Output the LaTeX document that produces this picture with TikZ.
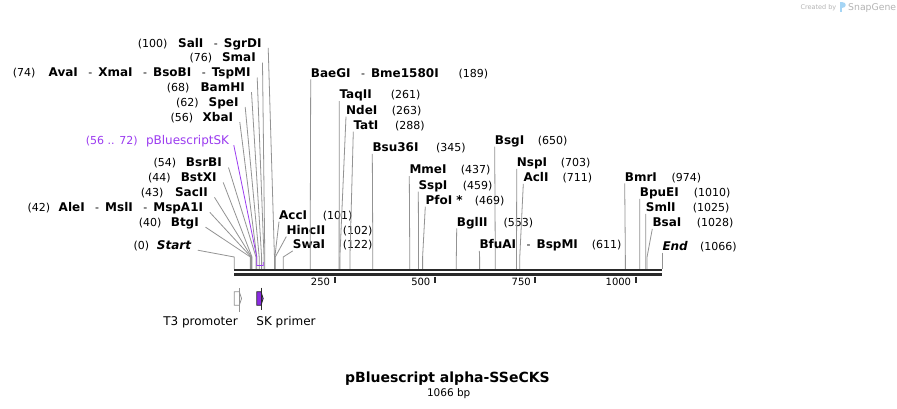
\documentclass[tikz,border=0pt]{standalone}
\usepackage{fontspec}
\setmainfont{DejaVu Sans}
\usetikzlibrary{calc}
\definecolor{leadc}{HTML}{939393}
\definecolor{bbc}{HTML}{2A2A2A}
\definecolor{purc}{HTML}{9B3BF0}
\definecolor{purf}{HTML}{8A2BE2}
\definecolor{logoc}{HTML}{A5D5F5}
\definecolor{credc}{HTML}{B4B4B4}
\newcommand\dsep{\hspace{10.5pt}{\mdseries\fontsize{11}{13}\selectfont-}\hspace{6pt}}
\newcommand\LS[7]{%
  \node[numlbl, anchor=base west] (#1n) at (#3,#2) {#4};
  \node[namelbl, anchor=base east] (#1) at (#5,#2) {#6};
  \coordinate (#1s) at (#7,269);
  \draw[leader] ($(#1.base east)+(6.5,0.8)$) -- ($(#1s)+(0,-12)$) -- (#1s);
}
\newcommand\RS[7]{%
  \node[namelbl, anchor=base west] (#1) at (#3,#2) {#4};
  \node[numlbl, anchor=base west] (#1n) at (#5,#2) {#6};
  \coordinate (#1s) at (#7,269);
  \draw[leader] ($(#1.base west)+(0,2.2)$) -- ($(#1s)+(0,-12)$) -- (#1s);
}
\newcommand\TK[3]{%
  \coordinate (#1) at (#2,276.8);
  \draw[tickline] (#1) -- ++(0,5.8);
  \node[ticklbl, anchor=base east] (#1l) at ($(#1)+(-4.5,8.5)$) {#3};
}
\begin{document}
\begin{tikzpicture}[x=1pt,y=-1pt,
  namelbl/.style={font=\fontsize{12}{14}\selectfont\bfseries, inner sep=0pt, text=black},
  numlbl/.style={font=\fontsize{11}{13}\selectfont, inner sep=0pt, text=black},
  ticklbl/.style={font=\fontsize{10}{12}\selectfont, inner sep=0pt},
  featlbl/.style={font=\fontsize{12}{14}\selectfont, inner sep=0pt},
  leader/.style={draw=leadc, line width=0.8pt},
  tickline/.style={draw=bbc, line width=2pt},
  backbone/.style={draw=bbc, line width=2.4pt}]
\fill[white] (0,0) rectangle (897,408);
\useasboundingbox (0,0) rectangle (897,408);

% left-hand sites
\LS{SalI}{47.1}{137.7}{(100)}{261.7}{SalI\dsep SgrDI}{274.45}
\LS{SmaI}{61.9}{189.3}{(76)}{256}{SmaI}{264.81}
\LS{AvaI}{76.7}{12.7}{(74)}{250.7}{AvaI\dsep XmaI\dsep BsoBI\dsep TspMI}{264.01}
\LS{BamHI}{91.4}{166.7}{(68)}{245}{BamHI}{261.6}
\LS{SpeI}{106.2}{176}{(62)}{238.7}{SpeI}{259.19}
\LS{XbaI}{121.2}{170.3}{(56)}{233.3}{XbaI}{256.78}
\LS{BsrBI}{166.7}{153.3}{(54)}{222}{BsrBI}{255.98}
\LS{BstXI}{181.6}{148}{(44)}{216.7}{BstXI}{251.97}
\LS{SacII}{196.5}{140.7}{(43)}{208}{SacII}{251.56}
\LS{AleI}{211.5}{27.3}{(42)}{203.3}{AleI\dsep MslI\dsep MspA1I}{251.16}
\LS{BtgI}{226.3}{138.7}{(40)}{199}{BtgI}{250.36}
\LS{Start}{249.4}{133.3}{(0)}{191.3}{\itshape Start}{234.3}

% pBluescriptSK feature label
\node[numlbl, text=purc, anchor=base west] (pskn) at (85.7,144.4) {(56 .. 72)};
\node[featlbl, text=purc, anchor=base east] (psk) at (229.3,144.4) {pBluescriptSK};
\coordinate (pskA) at (256.78,265.5);
\coordinate (pskB) at (263.2,265.5);
\draw[draw=purc, line width=0.8pt] ($(psk.base east)+(4.5,0.8)$) -- ($(pskA)+(0,-8.5)$) -- (pskA) -- (pskB) -- ++(0,-3.5);

% right-hand sites
\RS{AccI}{219.4}{279}{AccI}{322.7}{(101)}{274.85}
\RS{HincII}{234.4}{286.3}{HincII}{342.7}{(102)}{275.25}
\RS{SwaI}{248.7}{292.7}{SwaI}{342.7}{(122)}{283.28}
\RS{BaeGI}{77.1}{310.7}{BaeGI\dsep Bme1580I}{458.3}{(189)}{310.18}
\RS{TaqII}{98.9}{339.3}{TaqII}{390.7}{(261)}{339.09}
\RS{NdeI}{114.4}{346}{NdeI}{391.7}{(263)}{339.89}
\RS{TatI}{129.4}{353.3}{TatI}{395}{(288)}{349.93}
\RS{Bsu36I}{151.7}{372.3}{Bsu36I}{436}{(345)}{372.82}
\RS{BsgI}{144.4}{494.7}{BsgI}{537.7}{(650)}{495.28}
\RS{MmeI}{173.9}{409.3}{MmeI}{460.7}{(437)}{409.76}
\RS{SspI}{189.4}{418.3}{SspI}{462.7}{(459)}{418.59}
\RS{PfoI}{204.4}{425.3}{PfoI *}{474.7}{(469)}{422.6}
\RS{BglII}{226.1}{456.7}{BglII}{503.3}{(553)}{456.33}
\RS{BfuAI}{248.7}{479.3}{BfuAI\dsep BspMI}{591.7}{(611)}{479.62}
\RS{NspI}{166.7}{516.7}{NspI}{560.7}{(703)}{516.55}
\RS{AclI}{181.7}{523.3}{AclI}{562.3}{(711)}{519.77}
\RS{BmrI}{181.1}{624.7}{BmrI}{671.5}{(974)}{625.36}
\RS{BpuEI}{196.7}{639.7}{BpuEI}{693.7}{(1010)}{639.82}
\RS{SmlI}{211.7}{645.7}{SmlI}{692.7}{(1025)}{645.84}
\RS{BsaI}{226.7}{652.3}{BsaI}{696.7}{(1028)}{647.04}
\RS{End}{250.4}{662.3}{\itshape End}{700}{(1066)}{662.3}

% backbone
\coordinate (bbL1) at (234.3,270.1);
\coordinate (bbR1) at (662.3,270.1);
\coordinate (bbL2) at (234.3,274.6);
\coordinate (bbR2) at (662.3,274.6);
\draw[backbone] (bbL1) -- (bbR1);
\draw[backbone] (bbL2) -- (bbR2);

% ruler ticks
\TK{t250}{334.7}{250}
\TK{t500}{435.05}{500}
\TK{t750}{535.43}{750}
\TK{t1000}{635.8}{1000}

% T3 promoter
\draw[draw=leadc, fill=white, line width=0.8pt] (234.3,291.7) -- (239.3,291.7) -- (241.5,298.5) -- (239.3,305.3) -- (234.3,305.3) -- cycle;
\draw[draw=leadc, line width=0.8pt] (239.3,288) -- (239.3,312);
\node[featlbl, anchor=base] (t3) at (200.5,325.5) {T3 promoter};
% SK primer
\draw[draw=bbc, fill=purf, line width=0.8pt] (256.8,291.7) -- (261,291.7) -- (263.2,298.5) -- (261,305.3) -- (256.8,305.3) -- cycle;
\draw[draw=bbc, line width=0.9pt] (261,287.5) -- (261,310);
\node[featlbl, anchor=base] (skp) at (286,325.5) {SK primer};

% title
\node[font=\fontsize{14}{16}\selectfont\bfseries, inner sep=0pt, anchor=base] (title) at (447.4,382.8) {pBluescript alpha-SSeCKS};
\node[font=\fontsize{10.5}{12}\selectfont, inner sep=0pt, anchor=base] (bp) at (448.7,396) {1066 bp};

% credit
\node[font=\fontsize{6.5}{8}\selectfont, text=credc, inner sep=0pt, anchor=base east] (cred) at (836.5,9.6) {Created by};
\fill[logoc] (839.5,2.2) rectangle (841.9,12.2);
\fill[logoc] (841.9,2.2) .. controls (846.5,2.2) and (846.5,8.2) .. (841.9,8.2) -- cycle;
\node[font=\fontsize{9.3}{11}\selectfont, text=credc, inner sep=0pt, anchor=base west] (sg) at (848,10.6) {SnapGene};
\end{tikzpicture}
\end{document}
